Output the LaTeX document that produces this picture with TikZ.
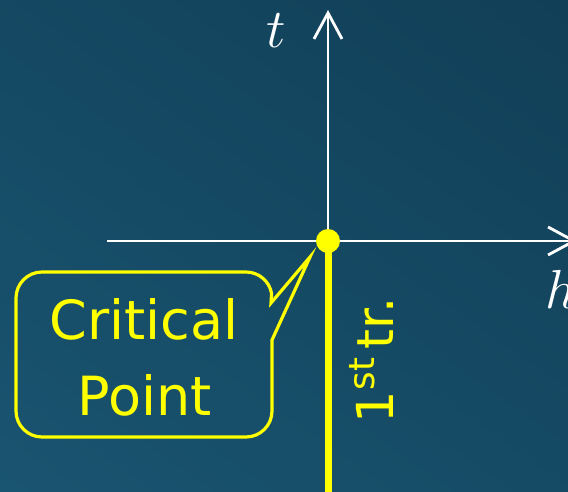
\RequirePackage{fix-cm}
\documentclass[tikz,border=0pt]{standalone}
\usepackage{fontspec}
\setsansfont{DejaVu Sans}
\usetikzlibrary{arrows.meta}
\definecolor{bgtop}{HTML}{113F57}
\definecolor{bgbot}{HTML}{195470}
\definecolor{cpyellow}{HTML}{FFFF00}
\tikzset{
  axisline/.style={white, line width=2.8pt, -{Straight Barb[length=26pt,width=28pt,line width=2.8pt]}},
  axislbl/.style={white, inner sep=0pt, anchor=base, font=\fontsize{55}{66}\selectfont},
  calloutline/.style={cpyellow, line width=3.2pt, line join=miter},
  callouttext/.style={cpyellow, inner sep=0pt, anchor=base, font=\sffamily\fontsize{54}{64}\selectfont},
  trline/.style={cpyellow, line width=7pt},
  trlbl/.style={cpyellow, inner sep=0pt, anchor=base, rotate=90, font=\sffamily\fontsize{51}{60}\selectfont},
}
\begin{document}
\begin{tikzpicture}[x=1pt,y=-1pt]
\useasboundingbox (0,0) rectangle (568,492);
\shade[shading=axis, top color=bgtop, bottom color=bgbot, shading angle=-35] (-100,-100) rectangle (668,592);
% axes
\coordinate (O) at (328,241);
\coordinate (xs) at (107,241);
\coordinate (xe) at (577,241);
\coordinate (ye) at (328,10);
\coordinate (yb) at (328,492);
\draw[axisline] (xs) -- (xe);
\draw[axisline] (O) -- (ye);
\node[axislbl] (tl) at (276,48) {$t$};
\node[axislbl] (hl) at (561,308) {$h$};
% first transition line
\draw[trline] (O) -- (yb);
\fill[cpyellow] (O) circle (12pt);
\node[trlbl] (tr) at (393,360) {1\textsuperscript{st}\hspace{8pt}tr.};
% callout
\coordinate (tip) at (310,257);
\coordinate (b1) at (271,303);
\coordinate (b2) at (272,340);
\draw[calloutline] (42,272) -- (246,272) arc[start angle=-90, end angle=-10, radius=26]
  -- (b1) -- (tip) -- (b2) -- (272,411) arc[start angle=0, end angle=90, radius=26]
  -- (42,437) arc[start angle=90, end angle=180, radius=26]
  -- (16,298) arc[start angle=180, end angle=270, radius=26] -- cycle;
\node[callouttext] (c1) at (144,339) {Critical};
\node[callouttext] (c2) at (145,415) {Point};
\end{tikzpicture}
\end{document}
